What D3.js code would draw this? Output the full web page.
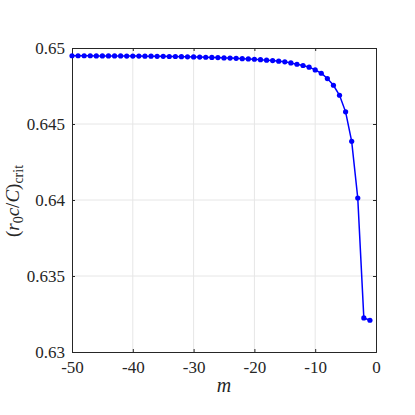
<!DOCTYPE html>
<html><head><meta charset="utf-8">
<script src="https://cdn.jsdelivr.net/npm/d3@7"></script>
<style>body{margin:0;background:#fff}svg{display:block}</style>
</head><body>
<script>
const mValues = [-50,-49,-48,-47,-46,-45,-44,-43,-42,-41,-40,-39,-38,-37,-36,-35,-34,-33,-32,-31,-30,-29,-28,-27,-26,-25,-24,-23,-22,-21,-20,-19,-18,-17,-16,-15,-14,-13,-12,-11,-10,-9,-8,-7,-6,-5,-4,-3,-2,-1];
const critValues = [0.64949,0.64949,0.64949,0.64949,0.64948,0.64948,0.64948,0.64948,0.64948,0.64947,0.64947,0.64947,0.64946,0.64946,0.64945,0.64945,0.64944,0.64944,0.64943,0.64942,0.64941,0.64940,0.64939,0.64938,0.64937,0.64935,0.64934,0.64932,0.64930,0.64928,0.64926,0.64923,0.64920,0.64917,0.64913,0.64909,0.64902,0.64893,0.64885,0.64874,0.64856,0.64834,0.64799,0.64755,0.64689,0.64580,0.64386,0.64013,0.63224,0.63209];
const xTicks = [-50,-40,-30,-20,-10,0];
const yTicks = [0.63,0.635,0.64,0.645,0.65];
const yTickLabels = ["0.63","0.635","0.64","0.645","0.65"];

const W=415,H=415, L=72, R=376, T=48, B=352;
const FF="Liberation Serif";
const svg=d3.select("body").append("svg").attr("width",W).attr("height",H).attr("font-family",FF);
const x=d3.scaleLinear().domain([-50,0]).range([L,R]);
const y=d3.scaleLinear().domain([0.63,0.65]).range([B,T]);
const axc="#262626";

// grid
svg.append("g").selectAll("line").data(xTicks.slice(1,-1)).join("line")
 .attr("x1",d=>x(d)).attr("x2",d=>x(d)).attr("y1",T).attr("y2",B)
 .attr("stroke","#e6e6e6").attr("stroke-width",1);
svg.append("g").selectAll("line").data(yTicks.slice(1,-1)).join("line")
 .attr("y1",d=>y(d)).attr("y2",d=>y(d)).attr("x1",L).attr("x2",R)
 .attr("stroke","#e6e6e6").attr("stroke-width",1);

// axes
const tl=3;
const gx=svg.append("g").attr("transform",`translate(0,${B})`)
 .call(d3.axisBottom(x).tickValues(xTicks).tickSize(-tl).tickPadding(9).tickFormat(d=>String(d)));
const gxt=svg.append("g").attr("transform",`translate(0,${T})`)
 .call(d3.axisTop(x).tickValues(xTicks).tickSize(-tl).tickFormat(""));
const gy=svg.append("g").attr("transform",`translate(${L},0)`)
 .call(d3.axisLeft(y).tickValues(yTicks).tickSize(-tl).tickPadding(7).tickFormat((d,i)=>yTickLabels[i]));
const gyr=svg.append("g").attr("transform",`translate(${R},0)`)
 .call(d3.axisRight(y).tickValues(yTicks).tickSize(-tl).tickFormat(""));
[gx,gxt,gy,gyr].forEach(g=>{
 g.attr("font-family",FF).attr("font-size",17);
 g.select(".domain").attr("stroke",axc).attr("stroke-width",1);
 g.selectAll(".tick line").attr("stroke",axc);
 g.selectAll("text").attr("fill",axc).attr("font-family",FF).attr("font-size",17);
});

// line
const line=d3.line().x((d,i)=>x(mValues[i])).y(d=>y(d));
svg.append("path").datum(critValues).attr("d",line).attr("fill","none")
 .attr("stroke","#0000ff").attr("stroke-width",1.5);
svg.append("g").selectAll("circle").data(critValues).join("circle")
 .attr("cx",(d,i)=>x(mValues[i])).attr("cy",d=>y(d)).attr("r",2.6).attr("fill","#0000ff");

// labels
svg.append("text").attr("x",(L+R)/2).attr("y",392).attr("text-anchor","middle")
 .attr("font-family",FF).attr("font-size",20).attr("font-style","italic").attr("fill",axc).text("m");
const yl=svg.append("text").attr("transform","translate(19,201) rotate(-90)").attr("text-anchor","middle")
 .attr("font-family",FF).attr("font-size",19).attr("fill",axc);
yl.append("tspan").text("(");
yl.append("tspan").attr("font-style","italic").text("r");
yl.append("tspan").attr("dy",4).attr("font-size",14).text("0");
yl.append("tspan").attr("dy",-4).attr("font-style","italic").text("c");
yl.append("tspan").text("/");
yl.append("tspan").attr("font-style","italic").text("C");
yl.append("tspan").text(")");
yl.append("tspan").attr("dy",4).attr("font-size",14).text("crit");
</script>
</body></html>
